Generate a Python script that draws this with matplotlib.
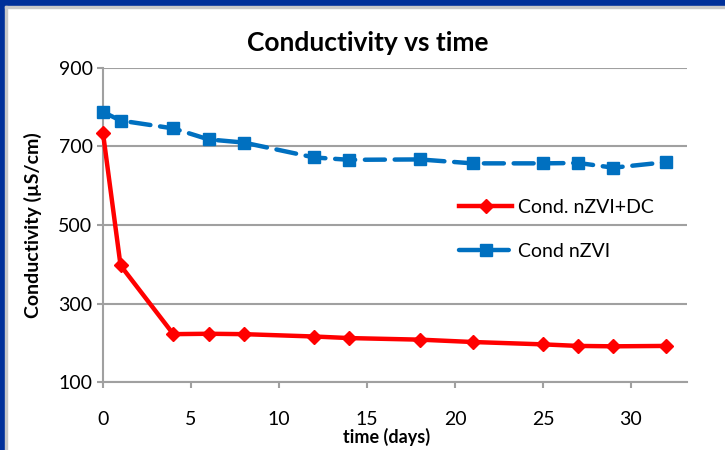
#!/usr/bin/env python3

import matplotlib
matplotlib.use("Agg")
from matplotlib.pyplot import subplots
from matplotlib.patches import Rectangle

# data
days = [0, 1, 4, 6, 8, 12, 14, 18, 21, 25, 27, 29, 32]
cond_dc = [735, 397, 222, 223, 222, 216, 212, 208, 202, 196, 192, 191, 192]
cond_nzvi = [788, 766, 746, 718, 710, 672, 666, 667, 657, 657, 658, 646, 660]
y_ticks = [100, 300, 500, 700, 900]
x_ticks = [0, 5, 10, 15, 20, 25, 30]

font = "Lato"
grid_grey = "#a0a0a0"

fig, ax = subplots(figsize=(7.25, 4.5), dpi=100)
fig.subplots_adjust(left=0.142, right=0.948, top=0.849, bottom=0.151)

# dark blue frame at top and left, like the slide it came from
fig.patches.append(Rectangle((0, 1 - 6 / 450), 1, 6 / 450, transform=fig.transFigure,
                             color="#00309a", zorder=0))
fig.patches.append(Rectangle((0, 0), 5 / 725, 1, transform=fig.transFigure,
                             color="#00309a", zorder=0))
fig.patches.append(Rectangle((5 / 725, 0), 1.5 / 725, 1 - 6 / 450, transform=fig.transFigure,
                             color="#c8c8c8", zorder=0))
fig.patches.append(Rectangle((5 / 725, 1 - 7.5 / 450), 1, 1.5 / 450, transform=fig.transFigure,
                             color="#c8c8c8", zorder=0))

ax.plot(days, cond_dc, color="#ff0000", lw=3.2, marker="D", ms=7,
        label="Cond. nZVI+DC", zorder=3, clip_on=False)
ax.plot(days, cond_nzvi, color="#0070c0", lw=3.2, marker="s", ms=8,
        dashes=(4.5, 2.2), dash_capstyle="round",
        label="Cond nZVI", zorder=3, clip_on=False)

ax.set_xlim(0, 33.2)
ax.set_ylim(100, 900)
ax.set_yticks(y_ticks)
ax.set_xticks(x_ticks)
ax.grid(axis="y", color=grid_grey, lw=1.5)
ax.set_axisbelow(True)

for side in ["top", "right"]:
    ax.spines[side].set_visible(False)
for side in ["left", "bottom"]:
    ax.spines[side].set_color(grid_grey)
    ax.spines[side].set_linewidth(1.5)

ax.tick_params(axis="both", colors=grid_grey, width=1.5, length=4, labelcolor="black",
               labelsize=14)
ax.tick_params(axis="x", pad=17)
for lab in ax.get_xticklabels() + ax.get_yticklabels():
    lab.set_fontfamily(font)

ax.set_title("Conductivity vs time", fontsize=19, fontweight="bold", family=font,
             pad=12, x=0.454)
ax.set_xlabel("time (days)", fontsize=13, fontweight="bold", family=font,
              labelpad=0, x=0.485)
ax.set_ylabel("Conductivity (µS/cm)", fontsize=14, fontweight="bold", family=font, labelpad=12)

leg = ax.legend(loc="upper left", bbox_to_anchor=(0.58, 0.64), frameon=False,
                prop={"family": font, "size": 14}, labelspacing=1.4,
                handlelength=2.7, handletextpad=0.3)

fig.savefig("out.png", dpi=100)
